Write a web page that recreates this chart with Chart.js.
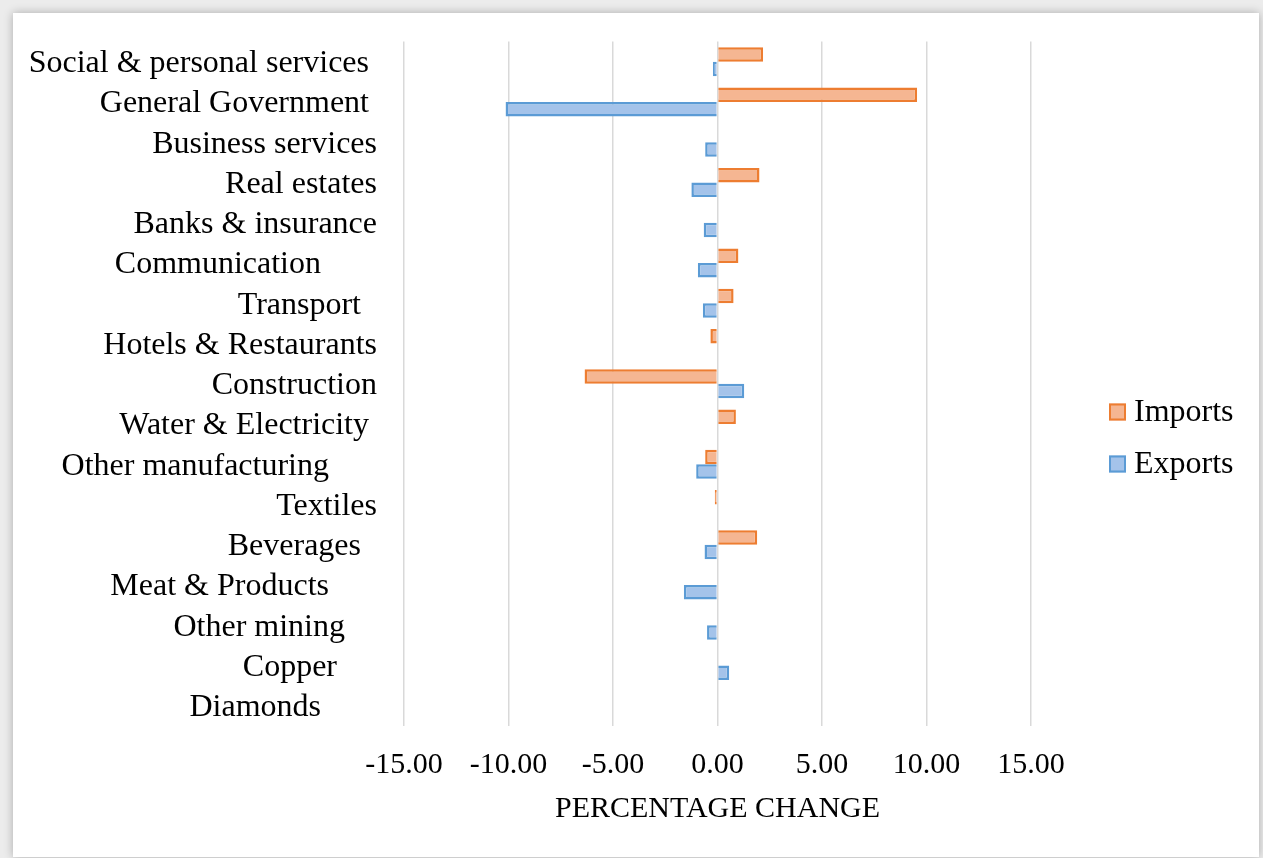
<!DOCTYPE html>
<html>
<head>
<meta charset="utf-8">
<script src="https://cdn.jsdelivr.net/npm/chart.js@4/dist/chart.umd.min.js"></script>
<style>
  html, body { margin: 0; padding: 0; width: 1263px; height: 858px; overflow: hidden; background: #ececec; }
  #frame { position: absolute; left: 13px; top: 13px; width: 1246px; height: 844px; background: #ffffff;
           box-shadow: 0 0 9px rgba(0,0,0,0.28); }
  #frame canvas { display: block; }
</style>
</head>
<body>
<div id="frame"><canvas id="chart" width="1246" height="844"></canvas></div>
<script>
// Sectors, top to bottom (trailing spaces are part of the original labels)
const sectors = [
  'Social & personal services ',
  'General Government ',
  'Business services',
  'Real estates',
  'Banks & insurance',
  'Communication       ',
  'Transport  ',
  'Hotels & Restaurants',
  'Construction',
  'Water & Electricity ',
  'Other manufacturing      ',
  'Textiles',
  'Beverages  ',
  'Meat & Products      ',
  'Other mining    ',
  'Copper     ',
  'Diamonds       '
];

// Percentage change by sector (null = no change shown)
const importsChange = [2.18, 9.55, null, 2.01, null, 1.00, 0.77, -0.34, -6.36, 0.88, -0.59, -0.13, 1.90, null, null, null, null];
const exportsChange = [-0.22, -10.14, -0.59, -1.25, -0.66, -0.94, -0.70, null, 1.28, null, -1.02, null, -0.62, -1.61, -0.50, 0.56, null];

const seriesNames = ['Imports', 'Exports'];
const axisTitle = 'PERCENTAGE CHANGE';
const axisMin = -15, axisMax = 15, axisStep = 5;

const SERIF = '"Liberation Serif", "Times New Roman", serif';

// Legend drawn beside the plot, vertically centred in the canvas
const sideLegend = {
  id: 'sideLegend',
  afterDraw(chart) {
    const ctx = chart.ctx;
    const n = chart.data.datasets.length;
    const step = 52, box = 17;
    const x = chart.chartArea.right + 78;
    const y0 = chart.height / 2 - step * (n - 1) / 2 + 3;
    ctx.save();
    chart.data.datasets.forEach((ds, i) => {
      const cy = y0 + i * step;
      ctx.fillStyle = ds.backgroundColor;
      ctx.fillRect(x, cy - box / 2, box, box);
      ctx.lineWidth = 2;
      ctx.strokeStyle = ds.borderColor;
      ctx.strokeRect(x + 1, cy - box / 2 + 1, box - 2, box - 2);
      ctx.fillStyle = '#000';
      ctx.font = '32px ' + SERIF;
      ctx.textBaseline = 'middle';
      ctx.textAlign = 'left';
      ctx.fillText(ds.label, x + box + 8, cy + 1);
    });
    ctx.restore();
  }
};

new Chart(document.getElementById('chart'), {
  type: 'bar',
  data: {
    labels: sectors,
    datasets: [
      { label: seriesNames[0], data: importsChange, backgroundColor: '#F5B692', borderColor: '#ED7D31', borderWidth: 2.5 },
      { label: seriesNames[1], data: exportsChange, backgroundColor: '#A4C3EA', borderColor: '#5B9BD5', borderWidth: 2.5 }
    ]
  },
  options: {
    indexAxis: 'y',
    responsive: false,
    animation: false,
    categoryPercentage: 0.72,
    barPercentage: 1.0,
    layout: { padding: { top: 28.5, right: 228, bottom: 30, left: 0 } },
    plugins: {
      legend: { display: false },
      tooltip: { enabled: false }
    },
    scales: {
      x: {
        min: axisMin,
        max: axisMax,
        border: { display: false },
        grid: { color: '#d9d9d9', lineWidth: 1.5, drawTicks: false },
        ticks: {
          stepSize: axisStep,
          padding: 21,
          color: '#000',
          font: { family: SERIF, size: 30 },
          maxRotation: 0,
          callback: v => v.toFixed(2)
        },
        title: {
          display: true,
          text: axisTitle,
          color: '#000',
          font: { family: SERIF, size: 30 },
          padding: { top: -13, bottom: 0 }
        }
      },
      y: {
        border: { display: false },
        // invisible tick marks keep the labels clear of the plot
        grid: { display: true, drawOnChartArea: false, drawTicks: true, tickLength: 27, tickColor: 'rgba(0,0,0,0)' },
        ticks: {
          padding: 0,
          labelOffset: 2,
          color: '#000',
          autoSkip: false,
          font: { family: SERIF, size: 32 }
        },
        afterFit(scale) { scale.width = 391; }
      }
    }
  },
  plugins: [sideLegend]
});
</script>
</body>
</html>
